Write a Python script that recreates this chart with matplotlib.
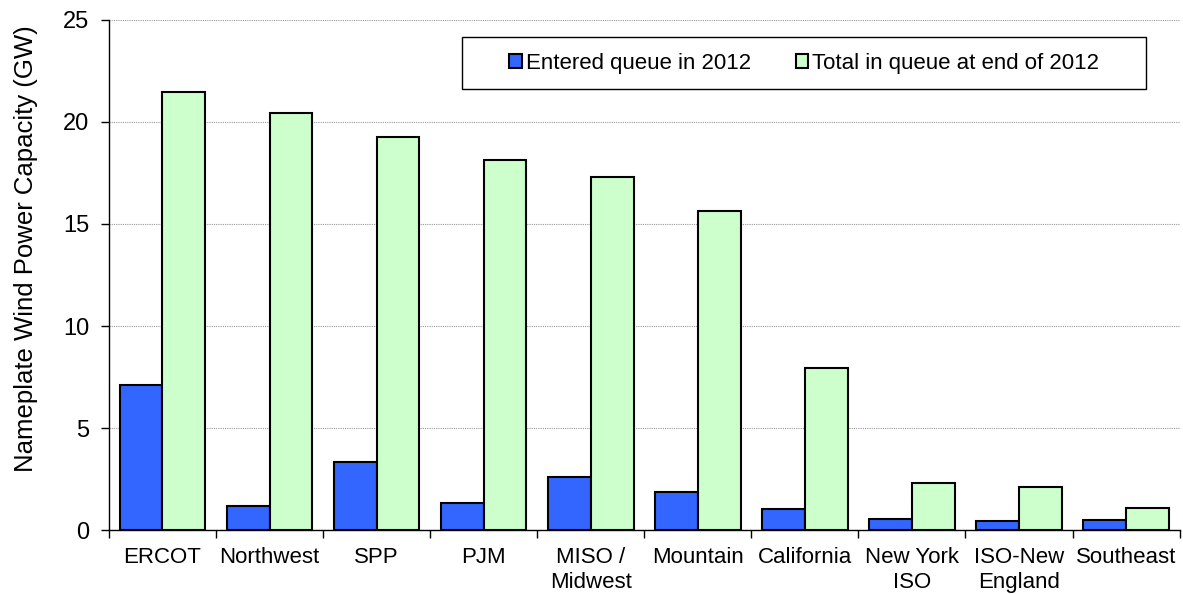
import matplotlib.pyplot as plt
import numpy as np
from matplotlib.patches import Rectangle

plt.rcParams['font.family'] = ['Liberation Sans', 'DejaVu Sans']

regions = ["ERCOT", "Northwest", "SPP", "PJM", "MISO /\nMidwest", "Mountain",
           "California", "New York\nISO", "ISO-New\nEngland", "Southeast"]
entered_2012 = [7.12, 1.20, 3.33, 1.36, 2.63, 1.87, 1.05, 0.56, 0.48, 0.50]
total_end_2012 = [21.44, 20.41, 19.27, 18.11, 17.29, 15.63, 7.93, 2.32, 2.14, 1.12]

x = np.arange(len(regions))
w = 0.4

fig = plt.figure(figsize=(11.83, 5.94), dpi=100)
ax = fig.add_axes([0.0921, 0.107, 0.905, 0.860])

ax.bar(x - w / 2, entered_2012, w, color="#3366FF", edgecolor="black", linewidth=1.5,
       label="Entered queue in 2012", zorder=3)
ax.bar(x + w / 2, total_end_2012, w, color="#CCFFCC", edgecolor="black", linewidth=1.5,
       label="Total in queue at end of 2012", zorder=3)

ax.set_xlim(-0.5, len(regions) - 0.5)
ax.set_ylim(0, 25)
ax.set_yticks([0, 5, 10, 15, 20, 25])
ax.set_xticks(x)
ax.set_xticklabels(regions, fontsize=16, linespacing=1.25)
ax.set_xticks(np.arange(len(regions) + 1) - 0.5, minor=True)
ax.tick_params(axis="x", which="major", length=0, pad=12)
ax.tick_params(axis="x", which="minor", length=6, width=1, direction="out")
ax.tick_params(axis="y", labelsize=17, length=6, width=1, direction="out", pad=8)
ax.set_ylabel("Nameplate Wind Power Capacity (GW)", fontsize=18.5)
ax.yaxis.set_label_coords(-0.066, 0.552)

ax.yaxis.grid(True, color="#999999", linestyle=(0, (1, 1)), linewidth=0.8, zorder=0)
ax.set_axisbelow(True)
for s in ["top", "right"]:
    ax.spines[s].set_visible(False)
ax.spines["left"].set_linewidth(1)
ax.spines["bottom"].set_linewidth(1)

# legend box drawn separately, legend entries centred inside it
box = Rectangle((0.33, 0.864), 0.639, 0.101, transform=ax.transAxes,
                facecolor="white", edgecolor="black", linewidth=1.0, zorder=4)
ax.add_patch(box)
leg = ax.legend(ncol=2, loc="center", bbox_to_anchor=(0.33 + 0.639 / 2, 0.864 + 0.101 / 2),
                fontsize=16, frameon=False, handlelength=0.55, handleheight=0.65,
                handletextpad=0.2, columnspacing=2.0, borderaxespad=0)
leg.set_zorder(5)

fig.savefig("out.png", dpi=100)
